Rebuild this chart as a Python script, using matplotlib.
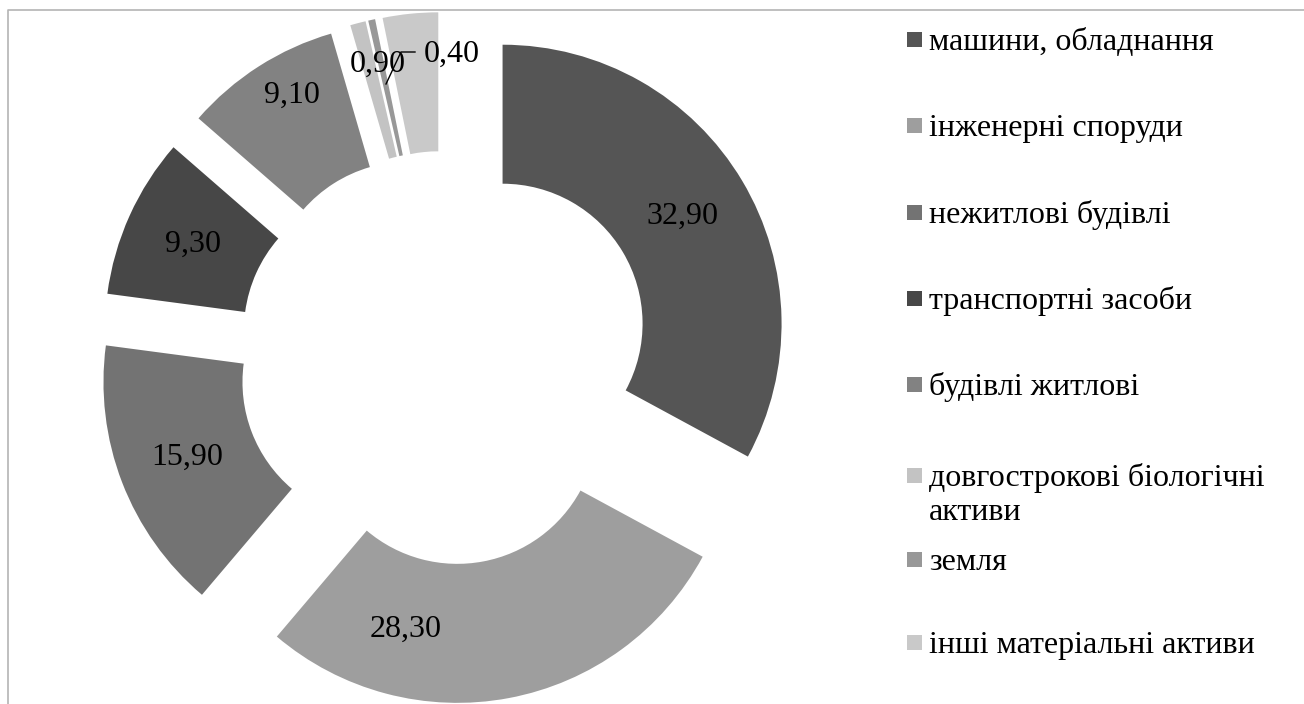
import matplotlib
matplotlib.use("Agg")
import matplotlib.pyplot as plt
from matplotlib.patches import Rectangle
import numpy as np

categories = [
    "машини, обладнання",
    "інженерні споруди",
    "нежитлові будівлі",
    "транспортні засоби",
    "будівлі житлові",
    "довгострокові біологічні\nактиви",
    "земля",
    "інші матеріальні активи",
]
values = [32.90, 28.30, 15.90, 9.30, 9.10, 0.90, 0.40, 3.20]
value_labels = ["32,90", "28,30", "15,90", "9,30", "9,10", "0,90", "0,40", ""]
colors = ["#555555", "#9e9e9e", "#737373", "#474747", "#828282",
          "#c3c3c3", "#989898", "#c9c9c9"]

W, H = 1304, 704
plt.rcParams["font.family"] = ["Liberation Serif", "DejaVu Serif"]
fig = plt.figure(figsize=(W / 100, H / 100), dpi=100)
ax = fig.add_axes([0, 0, 1, 1])

FS = 23
cx, cy = 445, H - 358
R, ring = 279, 139
expl = 67

wedges, _ = ax.pie(values, colors=colors, startangle=90, counterclock=False,
                   radius=R, center=(cx, cy), explode=[expl] * len(values),
                   wedgeprops=dict(width=ring, linewidth=0))

# data labels in the middle of the ring, a couple nudged like in the source
nudge = {1: (-90, 0), 4: (-4, 30)}
for i, w in enumerate(wedges):
    if i >= 5 or not value_labels[i]:
        continue
    th = np.deg2rad((w.theta1 + w.theta2) / 2)
    rr = R - ring / 2
    x = w.center[0] + rr * np.cos(th)
    y = w.center[1] + rr * np.sin(th)
    dx, dy = nudge.get(i, (0, 0))
    ax.text(x + dx, y + dy, value_labels[i], ha="center", va="center", fontsize=FS)

# the two thin slices get outside labels
ax.text(378, H - 64, value_labels[5], ha="center", va="center", fontsize=FS)
ax.text(452, H - 54, value_labels[6], ha="center", va="center", fontsize=FS)
ax.plot([415, 401, 386], [H - 52, H - 52, H - 84], color="black", lw=1)

# legend (square centres in px from top)
leg_y = [39.5, 125.5, 212, 298, 384, 475.5, 559.5, 642.5]
for lab, col, yc in zip(categories, colors, leg_y):
    yy = H - yc
    ax.add_patch(Rectangle((907, yy - 7.5), 15, 15, facecolor=col, edgecolor="none"))
    for k, line in enumerate(lab.split("\n")):
        ax.text(929, yy - 10.5 - 34 * k, line, ha="left", va="baseline", fontsize=FS)

# chart area border (top and left edges visible)
ax.plot([8, 8, W], [0, H - 10, H - 10], color="#b4b4b4", lw=1.2)

ax.set_xlim(0, W)
ax.set_ylim(0, H)
ax.set_aspect("auto")
ax.axis("off")

fig.savefig("out.png", dpi=100)
